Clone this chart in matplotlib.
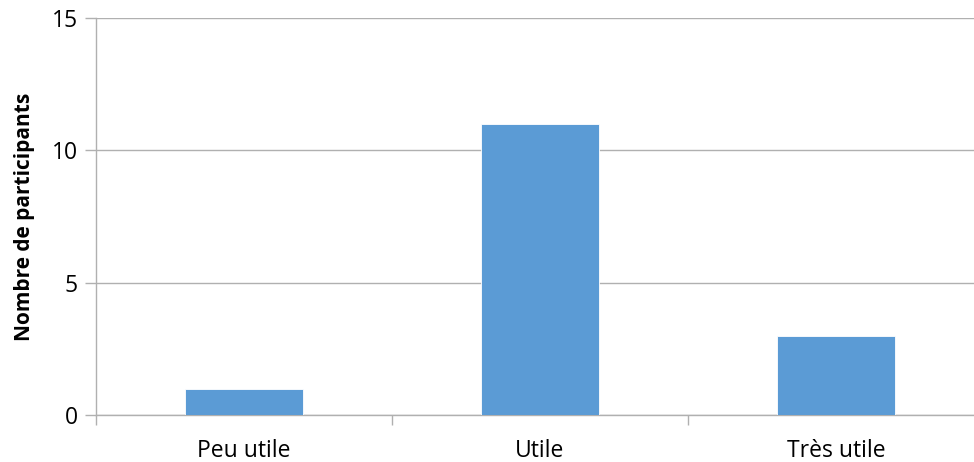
import numpy as np
import matplotlib.pyplot as plt

categories = ['Peu utile', 'Utile', 'Très utile']
participants = [1, 11, 3]
yticks = [0, 5, 10, 15]

plt.rcParams['font.family'] = ['Open Sans', 'DejaVu Sans']
grey = '#b0b0b0'

fig = plt.figure(figsize=(9.74, 4.62), dpi=100)
# the plot area runs a bit past the right edge of the picture
ax = fig.add_axes([96/974, 47/462, 888/974, 397/462])

x = np.arange(len(categories))
ax.bar(x, participants, width=0.4, color='#5b9bd5', edgecolor='white', linewidth=0.6, zorder=3)

ax.set_xlim(-0.5, len(categories) - 0.5)
ax.set_ylim(0, 15)
ax.set_yticks(yticks)
ax.set_yticklabels([str(v) for v in yticks], fontsize=16.5)
ax.yaxis.grid(True, color=grey, linewidth=1, zorder=0)

ax.set_xticks(x)
ax.set_xticklabels(categories, fontsize=16.5)
ax.tick_params(axis='x', which='major', length=0, pad=17)
ax.set_xticks(np.arange(len(categories) + 1) - 0.5, minor=True)
ax.tick_params(axis='x', which='minor', length=7, color=grey, width=1)
ax.tick_params(axis='y', length=8, color=grey, width=1, pad=5)

for s in ['top', 'right']:
    ax.spines[s].set_visible(False)
for s in ['left', 'bottom']:
    ax.spines[s].set_color(grey)
    ax.spines[s].set_linewidth(1)

ax.set_ylabel('Nombre de participants', fontsize=15, fontweight='bold', labelpad=12)

fig.savefig('out.png', dpi=100)
